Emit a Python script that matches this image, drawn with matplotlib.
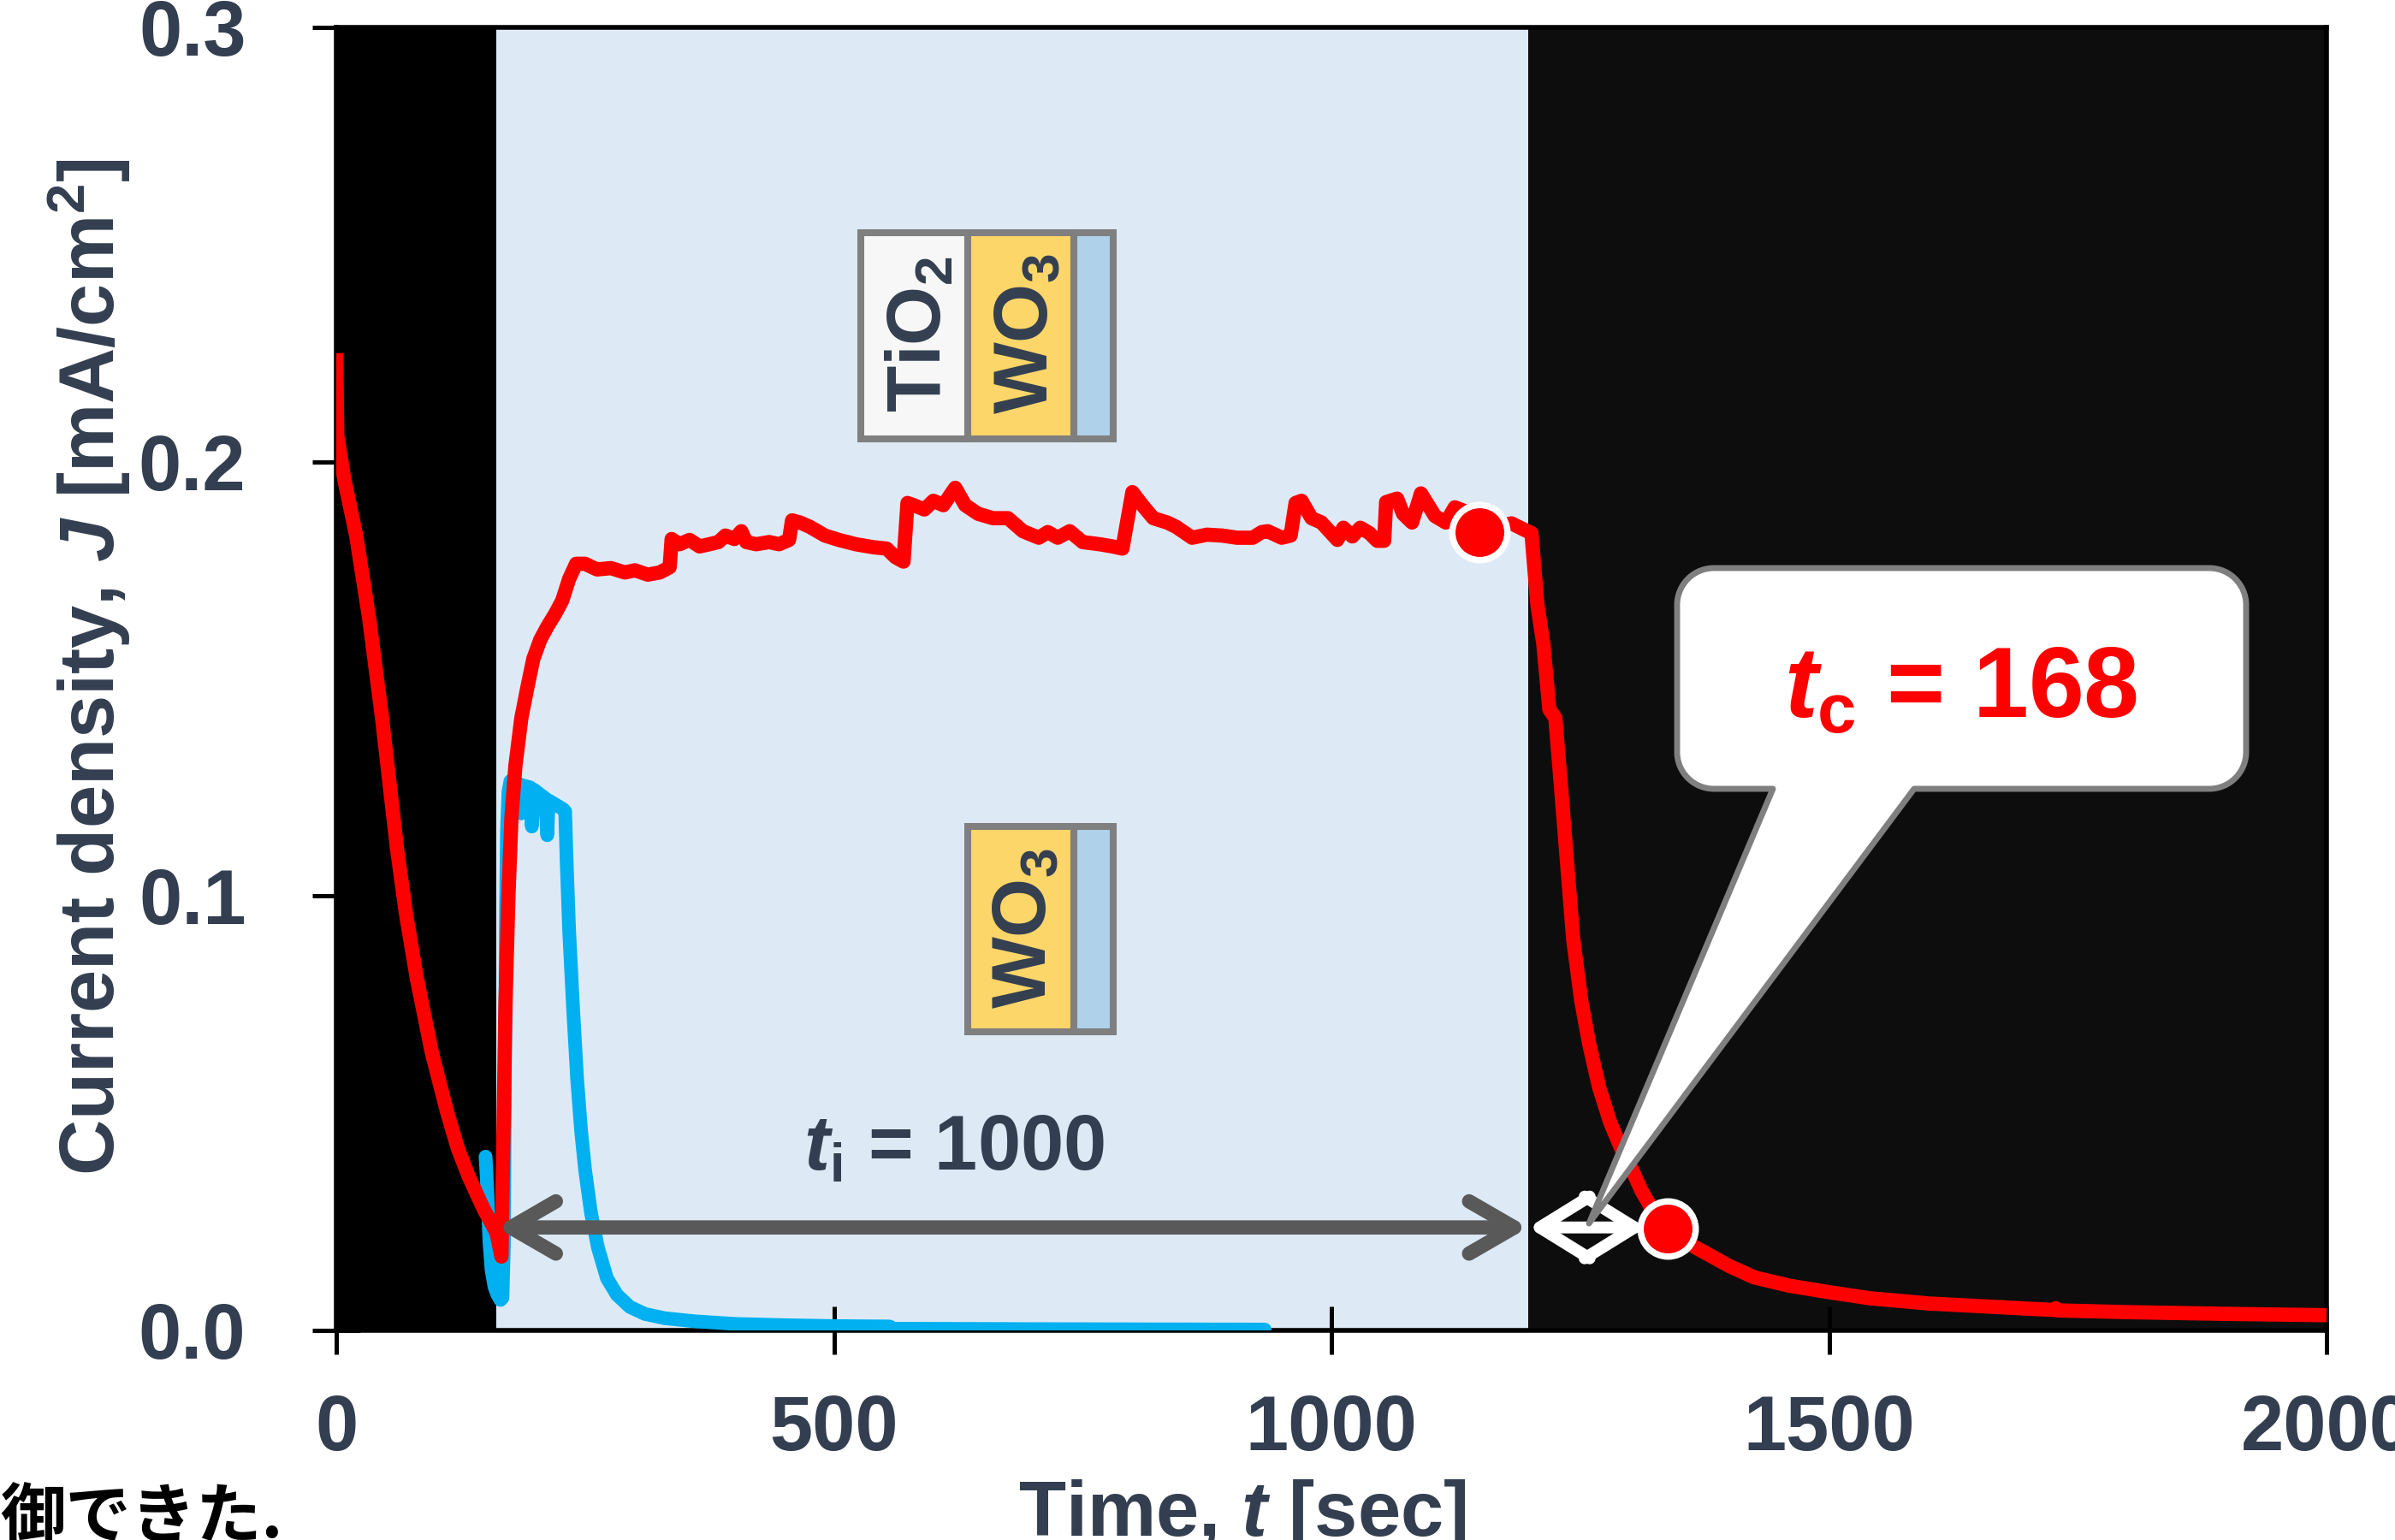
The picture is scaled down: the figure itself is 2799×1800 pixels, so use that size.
import matplotlib
matplotlib.use('Agg')
import matplotlib.pyplot as plt
from matplotlib.patches import Rectangle, FancyArrowPatch, PathPatch
from matplotlib.path import Path
from matplotlib.transforms import IdentityTransform

plt.rcParams['font.family'] = ['Liberation Sans', 'DejaVu Sans']
plt.rcParams['font.weight'] = 'bold'
plt.rcParams['axes.labelweight'] = 'bold'
plt.rcParams['mathtext.fontset'] = 'custom'
plt.rcParams['mathtext.rm'] = 'Liberation Sans:bold'
plt.rcParams['mathtext.it'] = 'Liberation Sans:italic:bold'
plt.rcParams['mathtext.bf'] = 'Liberation Sans:bold'

# ---------------- data ----------------
red_t = [0, 1, 8, 20, 33, 46, 61, 70, 81, 96, 111, 122, 133, 148, 161, 166,
         168, 170, 173, 176, 180, 186, 192, 198, 205, 212, 220, 227, 234, 241,
         250, 262, 276, 290, 300, 313, 325, 335, 337, 345, 355, 365, 375, 384,
         391, 400, 407, 412, 422, 435, 445, 455, 458, 466, 476, 485, 491, 505,
         522, 540, 553, 562, 570, 574, 580, 591, 600, 610, 622, 632, 645, 660,
         675, 690, 706, 715, 725, 737, 750, 767, 780, 790, 800, 810, 821, 835,
         844, 860, 875, 890, 905, 921, 930, 936, 950, 959, 964, 970, 980, 990,
         1006, 1012, 1021, 1029, 1038, 1046, 1053, 1055, 1066, 1072, 1081, 1090,
         1104, 1115, 1124, 1132, 1140, 1149, 1160, 1170, 1181, 1195, 1201,
         1207, 1213, 1219, 1225, 1229, 1236, 1243, 1251, 1259, 1269, 1280, 1291,
         1302, 1312, 1322, 1338, 1355, 1373, 1400, 1425, 1460, 1500, 1541, 1600,
         1650, 1700, 1727, 1728, 1730, 1800, 1900, 2000]
red_j = [0.225, 0.206, 0.196, 0.183, 0.164, 0.141, 0.111, 0.096, 0.081, 0.064,
         0.0506, 0.042, 0.0355, 0.028, 0.0225, 0.017,
         0.045, 0.075, 0.100, 0.118, 0.130, 0.141, 0.148, 0.1546, 0.159, 0.162,
         0.165, 0.168, 0.173, 0.1765,
         0.1765, 0.1752, 0.1755, 0.1745, 0.175, 0.174, 0.1745, 0.1757, 0.1822,
         0.181, 0.182, 0.1805, 0.181, 0.1815,
         0.183, 0.1822, 0.184, 0.1815, 0.181, 0.1815, 0.181, 0.182, 0.1865,
         0.186, 0.185, 0.1838, 0.183, 0.182,
         0.181, 0.1803, 0.180, 0.178, 0.177, 0.1905, 0.190, 0.189, 0.191, 0.190,
         0.194, 0.190, 0.188, 0.187,
         0.187, 0.184, 0.1825, 0.1838, 0.1825, 0.184, 0.1815, 0.181, 0.1805,
         0.180, 0.193, 0.190, 0.187, 0.186,
         0.185, 0.1825, 0.1832, 0.183, 0.1825, 0.1825, 0.1838, 0.184, 0.1825,
         0.183, 0.1905, 0.191, 0.187, 0.186,
         0.182, 0.1848, 0.1828, 0.1848, 0.1836, 0.1818, 0.1818, 0.1907, 0.1915,
         0.188, 0.186, 0.1927,
         0.1875, 0.186, 0.1895, 0.1888, 0.1855, 0.1837, 0.1840, 0.1852, 0.1858,
         0.1842, 0.1836,
         0.167, 0.158, 0.143, 0.141, 0.130, 0.110, 0.090, 0.076, 0.066, 0.056,
         0.048, 0.042,
         0.037, 0.032, 0.028, 0.0234, 0.0205, 0.0182, 0.0148, 0.0122, 0.0103,
         0.0088, 0.0074, 0.0062,
         0.0056, 0.0050, 0.0047, 0.0051, 0.0046, 0.0042, 0.0038, 0.0035]

blue_t = [150, 151, 152.5, 154, 156, 159, 162, 165, 167, 168.5, 169.5, 170.5,
          171.5, 173, 175, 180, 184, 185.5, 187, 195, 196.5, 198.5, 210, 212,
          213.5, 228, 230, 231.5, 234, 238, 242, 246, 250, 256, 263, 272, 282,
          295, 310, 330, 360, 400, 450, 500, 556, 560, 700, 933]
blue_j = [0.040, 0.036, 0.028, 0.020, 0.014, 0.010, 0.0082, 0.0070, 0.0075,
          0.020, 0.060, 0.095, 0.115, 0.124, 0.1265, 0.126, 0.1258, 0.119,
          0.1255, 0.1250, 0.116, 0.1245, 0.1225, 0.114, 0.122, 0.120, 0.1195,
          0.108, 0.092, 0.074, 0.058, 0.046, 0.037, 0.027, 0.019, 0.012, 0.0082,
          0.0054, 0.0038, 0.0028, 0.0021, 0.0015, 0.0012, 0.0010, 0.0009,
          0.0004, 0.0003, 0.0002]

marker_t = [1149, 1338]
marker_j = [0.1837, 0.0234]

light_on = 161
light_off = 1198
arrow_j = 0.0237

x_ticks = [0, 500, 1000, 1500, 2000]
x_tick_labels = ['0', '500', '1000', '1500', '2000']
y_ticks = [0.0, 0.1, 0.2, 0.3]
y_tick_labels = ['0.0', '0.1', '0.2', '0.3']

# ---------------- figure ----------------
W, H = 2799, 1800
fig = plt.figure(figsize=(W / 100, H / 100), dpi=100)
AX_L, AX_R, AX_T, AX_B = 393, 2719, 32, 1555
ax = fig.add_axes([AX_L / W, 1 - AX_B / H, (AX_R - AX_L) / W, (AX_B - AX_T) / H])
ax.set_xlim(0, 2000)
ax.set_ylim(0, 0.3)

TXT = '#333F50'
GRAY = '#7F7F7F'

ax.axvspan(0, light_on, color='#000000', lw=0, zorder=0)
ax.axvspan(light_on, light_off, color='#DDEAF6', lw=0, zorder=0)
ax.axvspan(light_off, 2000, color='#0D0D0D', lw=0, zorder=0)

ax.plot(blue_t, blue_j, color='#00B0F0', lw=11.5, solid_capstyle='round',
        solid_joinstyle='round', zorder=3)
ax.plot(red_t, red_j, color='#FF0000', lw=12, solid_capstyle='butt',
        solid_joinstyle='round', zorder=3.5)

arr = FancyArrowPatch((light_on, arrow_j), (light_off, arrow_j),
                      arrowstyle='<->,head_length=38,head_width=22',
                      mutation_scale=1, lw=12, color='#595959',
                      shrinkA=0, shrinkB=0, capstyle='round', joinstyle='round',
                      zorder=4)
ax.add_patch(arr)

ax.plot(marker_t, marker_j, 'o', ms=46.4, mfc='#FF0000', mec='white', mew=5.4,
        zorder=5, clip_on=False)

arr2 = FancyArrowPatch((light_off, arrow_j), (marker_t[1] - 22, arrow_j),
                       arrowstyle='<->,head_length=42,head_width=26',
                       mutation_scale=1, lw=10, color='white',
                       shrinkA=0, shrinkB=0, capstyle='round', joinstyle='round',
                       zorder=6)
ax.add_patch(arr2)


def d(px, py):
    """figure pixel (y down) -> data coords"""
    return ((px - AX_L) / (AX_R - AX_L) * 2000, (AX_B - py) / (AX_B - AX_T) * 0.3)


def add_cell(x0, x1, y0, y1, fc):
    (dx0, dy0), (dx1, dy1) = d(x0, y1), d(x1, y0)
    ax.add_patch(Rectangle((dx0, dy0), dx1 - dx0, dy1 - dy0, facecolor=fc,
                           edgecolor=GRAY, lw=5.8, zorder=6))


# inset 1: TiO2 / WO3 / substrate
add_cell(1006, 1131, 272, 513, '#F7F7F7')
add_cell(1131, 1255, 272, 513, '#FDD66A')
add_cell(1255, 1301, 272, 513, '#AFD2EA')
# inset 2: WO3 / substrate
add_cell(1131, 1255, 966, 1206, '#FDD66A')
add_cell(1255, 1301, 966, 1206, '#AFD2EA')

for (px, py), s in [((1077, 390), r'TiO$_\mathrm{2}$'),
                    ((1201, 390), r'WO$_\mathrm{3}$'),
                    ((1199, 1085), r'WO$_\mathrm{3}$')]:
    ax.text(*d(px, py), s, rotation=90, ha='center', va='center', fontsize=64,
            color=TXT, zorder=7)

ax.text(*d(1115, 1368), r'$t_\mathrm{i}$ = 1000', ha='center', va='baseline',
        fontsize=65, color=TXT, zorder=7)

# callout
bx0, bx1, by0, by1, r = 1960, 2625, 664, 922, 43
base_l, base_r = 2072, 2237
tipx, tipy = 1857, 1430
k = 0.5523 * r
pts = [((bx0 + r, by0), Path.MOVETO), ((bx1 - r, by0), Path.LINETO),
       ((bx1 - r + k, by0), Path.CURVE4), ((bx1, by0 + r - k), Path.CURVE4), ((bx1, by0 + r), Path.CURVE4),
       ((bx1, by1 - r), Path.LINETO),
       ((bx1, by1 - r + k), Path.CURVE4), ((bx1 - r + k, by1), Path.CURVE4), ((bx1 - r, by1), Path.CURVE4),
       ((base_r, by1), Path.LINETO), ((tipx, tipy), Path.LINETO), ((base_l, by1), Path.LINETO),
       ((bx0 + r, by1), Path.LINETO),
       ((bx0 + r - k, by1), Path.CURVE4), ((bx0, by1 - r + k), Path.CURVE4), ((bx0, by1 - r), Path.CURVE4),
       ((bx0, by0 + r), Path.LINETO),
       ((bx0, by0 + r - k), Path.CURVE4), ((bx0 + r - k, by0), Path.CURVE4), ((bx0 + r, by0), Path.CURVE4),
       ((bx0 + r, by0), Path.CLOSEPOLY)]
verts = [(x, H - y) for (x, y), _ in pts]
codes = [c for _, c in pts]
callout = PathPatch(Path(verts, codes), facecolor='white', edgecolor=GRAY, lw=5,
                    joinstyle='round', transform=IdentityTransform(), zorder=7,
                    clip_on=False)
ax.add_artist(callout)
ax.text(*d(2292, 838), r'$t_\mathrm{c}$ = 168', ha='center', va='baseline',
        fontsize=84, color='#FF0000', zorder=8)

# axes styling
ax.set_xticks(x_ticks, labels=x_tick_labels)
ax.set_yticks(y_ticks, labels=y_tick_labels)
ax.tick_params(direction='inout', length=40, width=3.6, color='black',
               labelsize=65, labelcolor=TXT)
ax.tick_params(axis='x', pad=33)
ax.tick_params(axis='y', pad=56)
for sp in ax.spines.values():
    sp.set_linewidth(4)
    sp.set_color('black')

ax.set_ylabel(r'Current density, $J$ [mA/cm$^\mathrm{2}$]', fontsize=65,
              fontweight='bold', color=TXT, va='center', ha='center')
ax.yaxis.set_label_coords((104 - AX_L) / (AX_R - AX_L), (AX_B - 780) / (AX_B - AX_T))
ax.set_xlabel(r'Time, $t$ [sec]', fontsize=65, fontweight='bold', color=TXT,
              va='baseline')
ax.xaxis.set_label_coords((1452 - AX_L) / (AX_R - AX_L), (AX_B - 1795) / (AX_B - AX_T))

fig.text(0, 3 / H, '御できた.', fontsize=55, fontweight='bold',
         family=['Noto Sans CJK JP', 'DejaVu Sans'], color='black',
         ha='left', va='baseline')

fig.savefig('out.png', dpi=100, facecolor='white')
